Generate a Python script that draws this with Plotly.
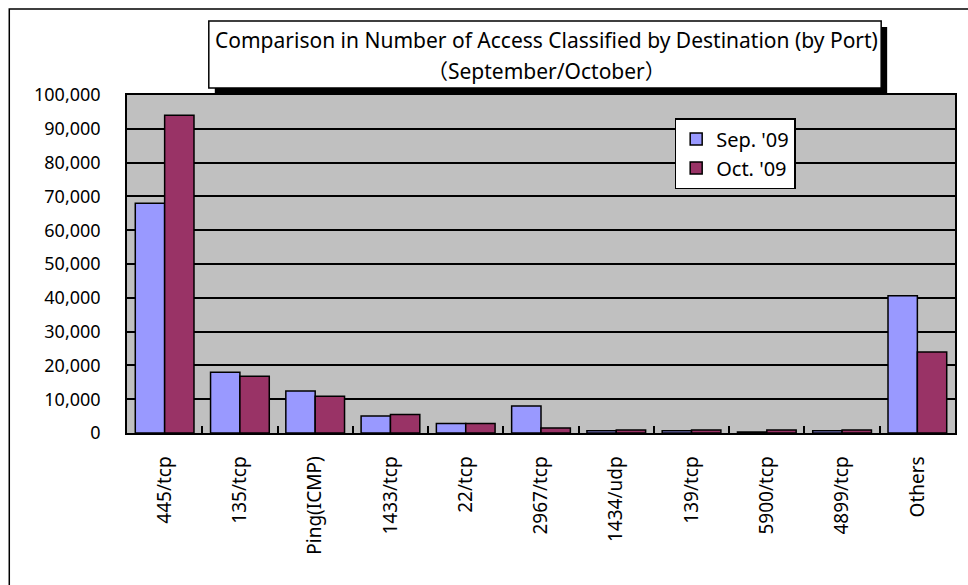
import plotly.graph_objects as go

categories = ["445/tcp", "135/tcp", "Ping(ICMP)", "1433/tcp", "22/tcp", "2967/tcp",
              "1434/udp", "139/tcp", "5900/tcp", "4899/tcp", "Others"]
sep_09 = [68000, 18000, 12400, 5000, 2800, 8000, 700, 700, 300, 700, 40600]
oct_09 = [94000, 16800, 10900, 5500, 2800, 1500, 900, 900, 900, 900, 24000]
series_names = ["Sep. '09", "Oct. '09"]
title_lines = ["Comparison in Number of Access Classified by Destination (by Port)",
               "（September/October）"]

W, H = 968, 585
L, R, T, B = 127, 957, 95, 433

def px(x):
    return (x - L) / (R - L)

def py(y):
    return (B - y) / (B - T)

FONT = "Noto Sans, Noto Sans CJK JP, sans-serif"

fig = go.Figure()
fig.add_trace(go.Bar(x=categories, y=sep_09, name=series_names[0],
                     marker=dict(color="#9999FF", line=dict(color="#000000", width=1.5))))
fig.add_trace(go.Bar(x=categories, y=oct_09, name=series_names[1],
                     marker=dict(color="#993366", line=dict(color="#000000", width=1.5))))

shapes = [
    # outer chart frame
    dict(type="rect", xref="paper", yref="paper", x0=px(9), y0=py(600), x1=px(990), y1=py(9),
         line=dict(color="#000000", width=1.5), fillcolor="rgba(0,0,0,0)", layer="below"),
    # title shadow
    dict(type="rect", xref="paper", yref="paper", x0=px(215), y0=py(94), x1=px(889), y1=py(27),
         line=dict(color="#000000", width=0), fillcolor="#000000", layer="above"),
    # title box
    dict(type="rect", xref="paper", yref="paper", x0=px(209), y0=py(88), x1=px(883), y1=py(21),
         line=dict(color="#000000", width=1.5), fillcolor="#FFFFFF", layer="above"),
]

annotations = [
    dict(text=title_lines[0], xref="paper", yref="paper", x=px(548), y=py(40),
         showarrow=False, xanchor="center", yanchor="middle",
         font=dict(family=FONT, size=21, color="#000000")),
    dict(text=title_lines[1], xref="paper", yref="paper", x=px(548), y=py(71),
         showarrow=False, xanchor="center", yanchor="middle",
         font=dict(family=FONT, size=21, color="#000000")),
]

fig.update_layout(
    width=W, height=H,
    margin=dict(l=L, r=W - R, t=T, b=H - B, pad=0),
    paper_bgcolor="#FFFFFF",
    plot_bgcolor="#C0C0C0",
    barmode="group",
    bargap=0.22,
    bargroupgap=0,
    font=dict(family=FONT, size=18, color="#000000"),
    showlegend=True,
    legend=dict(x=px(676), y=py(118), xanchor="left", yanchor="top",
                bgcolor="#FFFFFF", bordercolor="#000000", borderwidth=1.5,
                font=dict(family=FONT, size=20, color="#000000"),
                tracegroupgap=0, itemwidth=30,
                entrywidth=140, entrywidthmode="pixels"),
    shapes=shapes,
    annotations=annotations,
)

fig.update_xaxes(
    type="category",
    showline=True, linecolor="#000000", linewidth=1.5, mirror=True,
    ticks="inside", tickson="boundaries", ticklen=7, tickcolor="#000000", tickwidth=1.5,
    tickangle=-90, ticklabelstandoff=14,
    tickfont=dict(family=FONT, size=19, color="#000000"),
    showgrid=False,
)
fig.update_yaxes(
    range=[0, 100000], dtick=10000, tickformat=",",
    showline=True, linecolor="#000000", linewidth=1.5, mirror=True,
    showgrid=True, gridcolor="#000000", gridwidth=1.5,
    ticks="", ticklabelstandoff=21,
    tickfont=dict(family=FONT, size=18, color="#000000"),
    zeroline=False,
)

fig.write_html("out.html")
